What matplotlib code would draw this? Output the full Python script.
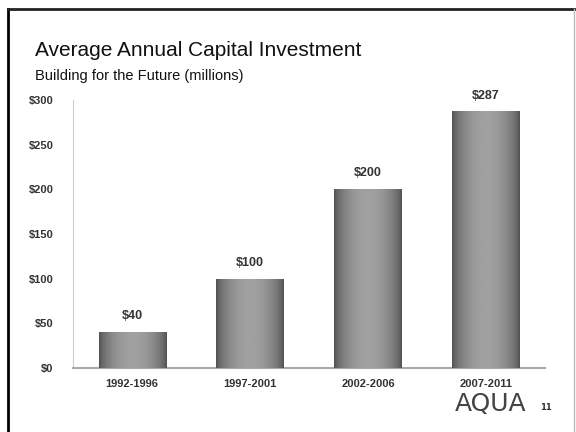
import numpy as np
import matplotlib.pyplot as plt
from matplotlib.lines import Line2D

periods = ['1992-1996', '1997-2001', '2002-2006', '2007-2011']
investment = [40, 100, 200, 287]
yticks = [0, 50, 100, 150, 200, 250, 300]

fig = plt.figure(figsize=(5.76, 4.32), dpi=100)
ax = fig.add_axes([0.127, 0.148, 0.819, 0.621])

x = np.arange(len(periods))
bars = ax.bar(x, investment, width=0.57, color='#7a7a7a', zorder=2)

# cylinder-like shading: dark edges, lighter middle
t = np.linspace(0, 1, 200)
shade = 0.30 + 0.33 * np.sin(np.pi * t) ** 0.6
grad = np.tile(shade, (2, 1))
for b in bars:
    x0, w, h = b.get_x(), b.get_width(), b.get_height()
    im = ax.imshow(grad, cmap='gray', vmin=0, vmax=1, aspect='auto',
                   extent=[x0, x0 + w, 0, h], zorder=3, interpolation='bicubic')
    im.set_clip_path(b)
    ax.text(x0 + w / 2, h + 11, '$%d' % h, ha='center', va='bottom',
            fontsize=9, fontweight='bold', color='#333333', family='Liberation Sans')

ax.set_xlim(-0.5, 3.5)
ax.set_ylim(0, 300)
ax.set_yticks(yticks)
ax.set_yticklabels(['$%d' % v for v in yticks], fontsize=8, fontweight='bold',
                   color='#333333', family='Liberation Sans')
ax.set_xticks(x)
ax.set_xticklabels(periods, fontsize=8, fontweight='bold', color='#333333',
                   family='Liberation Sans')
ax.tick_params(length=0, pad=14)
ax.tick_params(axis='x', pad=8)
for s in ['top', 'right']:
    ax.spines[s].set_visible(False)
ax.spines['left'].set_color('#cccccc')
ax.spines['bottom'].set_color('#aaaaaa')
ax.spines['bottom'].set_linewidth(1.5)

fig.text(0.061, 0.870, 'Average Annual Capital Investment', fontsize=15,
         color='#111111', family='Liberation Sans')
fig.text(0.061, 0.815, 'Building for the Future (millions)', fontsize=10.5,
         color='#111111', family='Liberation Sans')
fig.text(0.790, 0.048, 'AQUA', fontsize=18, color='#444444', family='DejaVu Sans')
fig.text(0.937, 0.050, '11', fontsize=6, color='#333333', fontweight='bold')

# slide border
fig.add_artist(Line2D([0.014, 0.014], [0, 0.979], color='black', lw=2))
fig.add_artist(Line2D([0.014, 1.0], [0.979, 0.979], color='#222222', lw=2))
fig.add_artist(Line2D([0.996, 0.996], [0, 0.979], color='#bbbbbb', lw=1))

fig.savefig('out.png', dpi=100)
